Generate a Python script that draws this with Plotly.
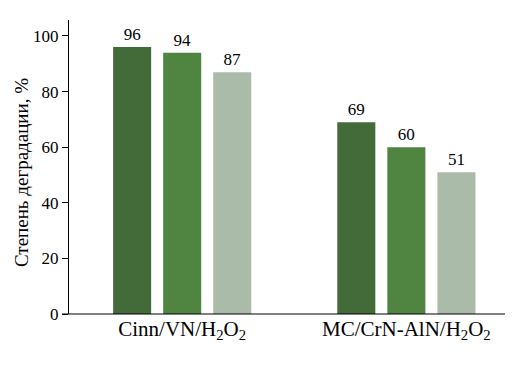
import plotly.graph_objects as go

categories = ["Cinn/VN/H<sub>2</sub>O<sub>2</sub>", "MC/CrN-AlN/H<sub>2</sub>O<sub>2</sub>"]
series1 = [96, 69]
series2 = [94, 60]
series3 = [87, 51]
colors = ["#436B3A", "#4F8541", "#ABBBA9"]
y_title = "Степень деградации, %"

fig = go.Figure()
for vals, c in zip([series1, series2, series3], colors):
    fig.add_trace(go.Bar(
        x=categories, y=vals, marker=dict(color=c, line=dict(width=0)),
        text=[str(v) for v in vals], textposition="outside", cliponaxis=False,
        textfont=dict(family="Liberation Serif", size=17, color="black"),
    ))

fig.update_layout(
    width=527, height=365,
    margin=dict(l=69, r=22, t=20, b=51),
    paper_bgcolor="white", plot_bgcolor="white",
    barmode="group", bargap=0.33, bargroupgap=0.24,
    showlegend=False,
    font=dict(family="Liberation Serif", size=17, color="black"),
    xaxis=dict(range=[-0.505, 1.44], showline=False, ticks="", showgrid=False,
               tickfont=dict(size=21)),
    yaxis=dict(range=[0, 105.75], showline=True, linecolor="black", linewidth=1,
               ticks="outside", ticklen=6, tickcolor="black", showgrid=False,
               zeroline=False, tickvals=[0, 20, 40, 60, 80, 100]),
)
fig.add_annotation(text=y_title, xref="paper", yref="paper", x=-0.109, y=0.481,
                   textangle=-90, showarrow=False, xanchor="center", yanchor="middle",
                   font=dict(size=19, family="Liberation Serif", color="black"))
fig.add_shape(type="line", xref="paper", yref="paper", x0=-7/436, x1=1, y0=0, y1=0,
              line=dict(color="black", width=1))
fig.write_html("out.html")
